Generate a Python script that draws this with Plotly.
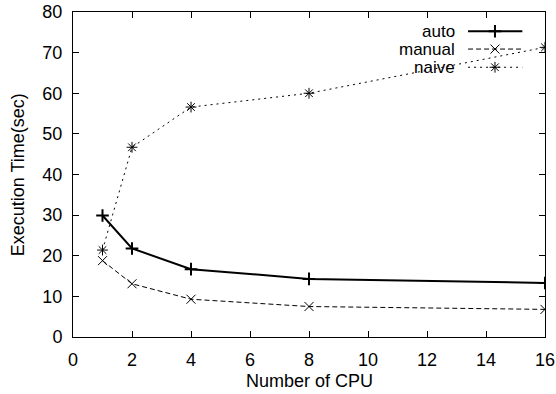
import plotly.graph_objects as go

cpus = [1, 2, 4, 8, 16]
auto_times = [29.9, 21.8, 16.7, 14.3, 13.3]
manual_times = [18.8, 13.1, 9.3, 7.5, 6.8]
naive_times = [21.4, 46.7, 56.6, 60.0, 71.3]
series_names = ["auto", "manual", "naive"]
x_title = "Number of CPU"
y_title = "Execution Time(sec)"

FONT = "Liberation Sans, Arial, Helvetica, sans-serif"
FS = 18
LFS = 17

styles = {
    "auto": dict(line=dict(color="black", width=2), symbol="cross-thin", msize=9, mlw=2),
    "manual": dict(line=dict(color="black", width=1, dash="5px,3px"), symbol="x-thin", msize=9, mlw=1),
    "naive": dict(line=dict(color="black", width=1, dash="2px,4px"), symbol="asterisk", msize=9, mlw=1),
}
values = {"auto": auto_times, "manual": manual_times, "naive": naive_times}

fig = go.Figure()
for name in series_names:
    s = styles[name]
    fig.add_trace(go.Scatter(
        x=cpus, y=values[name], mode="lines+markers", name=name, showlegend=False,
        line=s["line"],
        marker=dict(symbol=s["symbol"], size=s["msize"], color="black",
                    line=dict(color="black", width=s["mlw"])),
    ))

# custom gnuplot-style legend (text on left, sample on right)
leg_y = [0.941, 0.886, 0.830]
lx0, lxm, lx1 = 0.837, 0.894, 0.952
for name, yy in zip(series_names, leg_y):
    s = styles[name]
    fig.add_trace(go.Scatter(x=[lx0, lx1], y=[yy, yy], mode="lines", line=s["line"],
                             xaxis="x2", yaxis="y2", showlegend=False, hoverinfo="skip"))
    fig.add_trace(go.Scatter(x=[lxm], y=[yy], mode="markers",
                             marker=dict(symbol=s["symbol"], size=s["msize"], color="black",
                                         line=dict(color="black", width=s["mlw"])),
                             xaxis="x2", yaxis="y2", showlegend=False, hoverinfo="skip"))
    fig.add_annotation(x=0.813, y=yy, xref="paper", yref="paper", text=name,
                       showarrow=False, xanchor="right", yanchor="middle",
                       font=dict(family=FONT, size=LFS, color="black"))

# axis titles
fig.add_annotation(x=0.5, y=-0.135, xref="paper", yref="paper", text=x_title,
                   showarrow=False, xanchor="center", yanchor="middle",
                   font=dict(family=FONT, size=FS, color="black"))
fig.add_annotation(x=-0.117, y=0.5, xref="paper", yref="paper", text=y_title,
                   showarrow=False, xanchor="center", yanchor="middle", textangle=-90,
                   font=dict(family=FONT, size=FS, color="black"))

axis_common = dict(showline=True, linecolor="black", linewidth=1, mirror="ticks",
                   ticks="inside", ticklen=6, tickcolor="black", showgrid=False,
                   zeroline=False, automargin=False, ticklabelstandoff=6,
                   tickfont=dict(family=FONT, size=FS, color="black"))

fig.update_layout(
    width=556, height=394,
    margin=dict(l=73, r=11, t=12, b=57),
    paper_bgcolor="white", plot_bgcolor="white",
    font=dict(family=FONT, size=FS, color="black"),
    xaxis=dict(range=[0, 16], dtick=2, tick0=0, **axis_common),
    yaxis=dict(range=[0, 80], dtick=10, tick0=0, **axis_common),
    xaxis2=dict(overlaying="x", range=[0, 1], visible=False, fixedrange=True),
    yaxis2=dict(overlaying="y", range=[0, 1], visible=False, fixedrange=True),
    showlegend=False,
)

fig.write_html("out.html", config={"displayModeBar": False},
               post_script="document.body.style.margin='0';")
